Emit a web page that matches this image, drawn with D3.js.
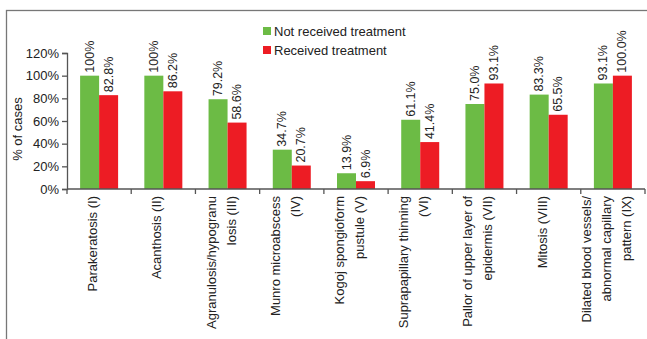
<!DOCTYPE html>
<html>
<head>
<meta charset="utf-8">
<script src="https://cdn.jsdelivr.net/npm/d3@7"></script>
<style>
  body { margin: 0; background: #fff; }
  text { font-family: "Liberation Sans", Arial, sans-serif; fill: #222; }
</style>
</head>
<body>
<div id="chart"></div>
<script>
// category labels, "|" marks a line break
const categories = [
    "Parakeratosis (I)",
    "Acanthosis (II)",
    "Agranulosis/hypogranu|losis (III)",
    "Munro microabscess|(IV)",
    "Kogoj spongioform|pustule (V)",
    "Suprapapillary thinning|(VI)",
    "Pallor of upper layer of|epidermis (VII)",
    "Mitosis (VIII)",
    "Dilated blood vessels/|abnormal capillary|pattern (IX)"
];
const seriesNames = ["Not received treatment", "Received treatment"];
const notReceived = [100, 100, 79.2, 34.7, 13.9, 61.1, 75.0, 83.3, 93.1];
const received = [82.8, 86.2, 58.6, 20.7, 6.9, 41.4, 93.1, 65.5, 100.0];
const notReceivedLabels = ["100%", "100%", "79.2%", "34.7%", "13.9%", "61.1%", "75.0%", "83.3%", "93.1%"];
const receivedLabels = ["82.8%", "86.2%", "58.6%", "20.7%", "6.9%", "41.4%", "93.1%", "65.5%", "100.0%"];
const yTicks = [0, 20, 40, 60, 80, 100, 120];
const colors = ["#6cbb45", "#ed1c24"];

let width = 647,
    height = 339;

let svg = d3.select("#chart")
    .append("svg")
    .attr("width", width)
    .attr("height", height);

// outer frame (clipped on the right and bottom)
svg.append("rect")
    .attr("x", 6.5)
    .attr("y", 10.5)
    .attr("width", 700)
    .attr("height", 400)
    .style("fill", "none")
    .style("stroke", "#777")
    .style("stroke-width", 1.3);

let x0 = d3.scaleBand()
    .domain(d3.range(categories.length))
    .range([67, 645]);

let barW = 19;
let bw = x0.bandwidth();
let x1 = d3.scaleBand()
    .domain([0, 1])
    .range([0, bw])
    .paddingOuter((bw / barW - 2) / 2);

let y = d3.scaleLinear()
    .domain([0, 120])
    .range([189, 53]);

let data = categories.map(function (c, i) {
    return {
        i: i,
        values: [
            { s: 0, v: notReceived[i], label: notReceivedLabels[i] },
            { s: 1, v: received[i], label: receivedLabels[i] }
        ]
    };
});

let groups = svg.selectAll(".grp")
    .data(data)
    .enter()
    .append("g")
    .attr("class", "grp")
    .attr("transform", function (d) { return "translate(" + x0(d.i) + ",0)"; });

groups.selectAll("rect")
    .data(function (d) { return d.values; })
    .enter()
    .append("rect")
    .attr("x", function (d) { return x1(d.s); })
    .attr("y", function (d) { return y(d.v); })
    .attr("width", x1.bandwidth())
    .attr("height", function (d) { return y(0) - y(d.v); })
    .style("fill", function (d) { return colors[d.s]; });

// value labels, rotated
groups.selectAll(".val")
    .data(function (d) { return d.values; })
    .enter()
    .append("text")
    .attr("class", "val")
    .attr("transform", function (d) {
        return "translate(" + (x1(d.s) + x1.bandwidth() / 2 + 4) + "," + (y(d.v) - 3) + ") rotate(-90)";
    })
    .style("font-size", "12.5px")
    .style("text-anchor", "start")
    .text(function (d) { return d.label; });

// y axis
let yAxis = d3.axisLeft(y)
    .tickValues(yTicks)
    .tickSize(5)
    .tickPadding(3)
    .tickFormat(function (d) { return d + "%"; });

let gy = svg.append("g")
    .attr("transform", "translate(67,0)")
    .call(yAxis);
gy.select(".domain").style("stroke", "#555").style("stroke-width", 1.3);
gy.selectAll(".tick line").style("stroke", "#555").style("stroke-width", 1.3);
gy.selectAll(".tick text")
    .style("font-size", "13px")
    .style("font-family", "Liberation Sans, Arial, sans-serif")
    .style("fill", "#222");

// x axis: ticks at the category boundaries
let boundaries = d3.range(categories.length + 1).map(function (i) {
    return i < categories.length ? x0(i) : x0(categories.length - 1) + bw;
});
svg.append("line")
    .attr("x1", x0.range()[0])
    .attr("x2", x0.range()[1])
    .attr("y1", y(0))
    .attr("y2", y(0))
    .style("stroke", "#555")
    .style("stroke-width", 1.3);
svg.selectAll(".xtick")
    .data(boundaries)
    .enter()
    .append("line")
    .attr("class", "xtick")
    .attr("x1", function (d) { return d; })
    .attr("x2", function (d) { return d; })
    .attr("y1", y(0))
    .attr("y2", y(0) + 5)
    .style("stroke", "#555")
    .style("stroke-width", 1.3);

// category labels, rotated and wrapped
let lineH = 20;
svg.selectAll(".cat")
    .data(categories)
    .enter()
    .append("text")
    .attr("class", "cat")
    .attr("transform", function (d, i) {
        return "translate(" + (x0(i) + bw / 2) + "," + (y(0) + 7) + ") rotate(-90)";
    })
    .style("font-size", "13px")
    .style("text-anchor", "end")
    .each(function (d) {
        let lines = d.split("|");
        let t = d3.select(this);
        lines.forEach(function (l, k) {
            t.append("tspan")
                .attr("x", 0)
                .attr("y", (k - (lines.length - 1) / 2) * lineH - 2)
                .text(l);
        });
    });

// y axis title
svg.append("text")
    .attr("transform", "translate(22,129) rotate(-90)")
    .style("font-size", "13px")
    .style("text-anchor", "middle")
    .text("% of cases");

// legend
let legend = svg.selectAll(".legend")
    .data(seriesNames)
    .enter()
    .append("g")
    .attr("class", "legend")
    .attr("transform", function (d, i) { return "translate(263," + (27 + i * 19) + ")"; });

legend.append("rect")
    .attr("width", 8)
    .attr("height", 8)
    .style("fill", function (d, i) { return colors[i]; });

legend.append("text")
    .attr("x", 11)
    .attr("y", 9)
    .style("font-size", "13px")
    .text(function (d) { return d; });
</script>
</body>
</html>
